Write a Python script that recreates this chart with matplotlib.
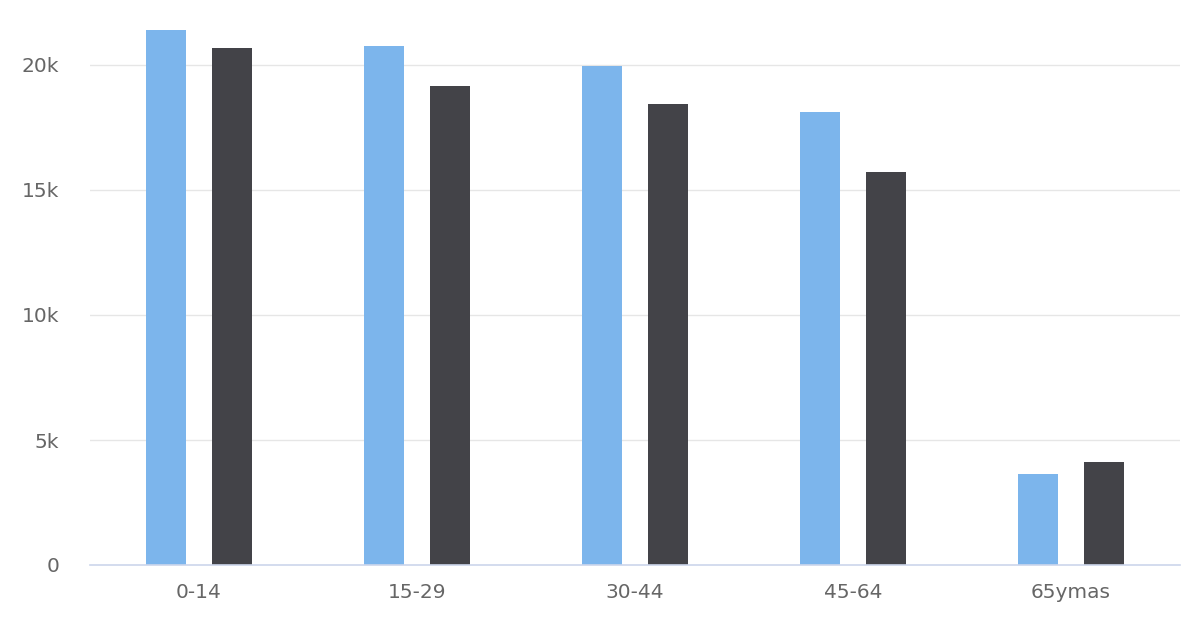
import matplotlib.pyplot as plt
import numpy as np

categories = ["0-14", "15-29", "30-44", "45-64", "65ymas"]
serie_a = [21.4, 20.76, 19.96, 18.12, 3.64]   # miles
serie_b = [20.68, 19.16, 18.44, 15.72, 4.12]

yticks = [0, 5, 10, 15, 20]
ytick_labels = ["0", "5k", "10k", "15k", "20k"]

plt.rcParams['font.family'] = ['DejaVu Sans']

fig = plt.figure(figsize=(12, 6.4), dpi=100)
ax = fig.add_axes([90 / 1200, 75 / 640, 1090 / 1200, 555 / 640])

x = np.arange(len(categories))
w = 40 / 218
off = 33 / 218
ax.bar(x - off, serie_a, width=w, color="#7cb5ec", zorder=3)
ax.bar(x + off, serie_b, width=w, color="#434348", zorder=3)

ax.set_xlim(-0.5, len(categories) - 0.5)
ax.set_ylim(0, 555 / 25)
ax.set_yticks(yticks)
ax.set_yticklabels(ytick_labels)
ax.set_xticks(x)
ax.set_xticklabels(categories)

for y in yticks[1:]:
    ax.axhline(y, color="#e6e6e6", lw=1, zorder=1)

for s in ["top", "right", "left"]:
    ax.spines[s].set_visible(False)
ax.spines["bottom"].set_color("#ccd6eb")
ax.spines["bottom"].set_linewidth(1.2)
ax.spines["bottom"].set_zorder(4)

ax.tick_params(axis="both", length=0, labelsize=14.5, colors="#666666")
ax.tick_params(axis="y", pad=22)
ax.tick_params(axis="x", pad=13)

fig.savefig("out.png", dpi=100)
